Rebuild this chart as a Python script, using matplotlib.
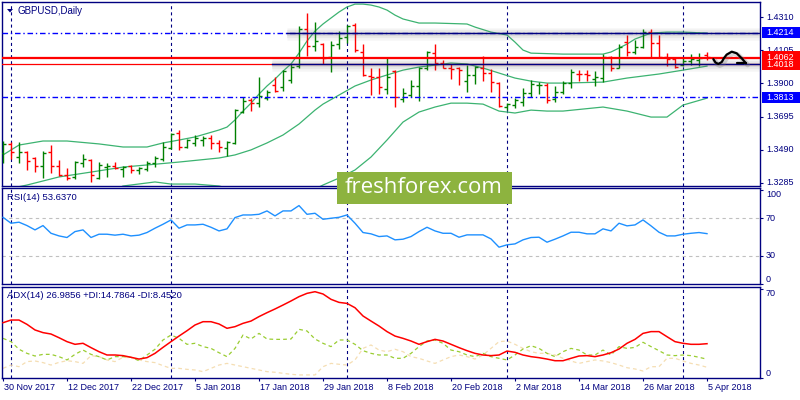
import numpy as np
import matplotlib.pyplot as plt
from matplotlib.patches import Rectangle, Polygon
from matplotlib.transforms import blended_transform_factory as blend

plt.rcParams['font.family'] = ['Liberation Sans', 'DejaVu Sans']

# ---- data (GBPUSD daily, 30 Nov 2017 .. 5 Apr 2018) ----
date_labels = ['30 Nov 2017', '12 Dec 2017', '22 Dec 2017', '5 Jan 2018', '17 Jan 2018',
               '29 Jan 2018', '8 Feb 2018', '20 Feb 2018', '2 Mar 2018', '14 Mar 2018',
               '26 Mar 2018', '5 Apr 2018']
date_pos = [0, 8, 16, 24, 32, 40, 48, 56, 64, 72, 80, 88]
month_start = [1, 21, 43, 63, 85]

opens = np.array([
    1.3470, 1.3526, 1.3445, 1.3476, 1.3439, 1.3390, 1.3476, 1.3390, 1.3334, 1.3322,
    1.3408, 1.3427, 1.3315, 1.3383, 1.3390, 1.3371, 1.3390, 1.3365, 1.3371, 1.3408,
    1.3433, 1.3501, 1.3593, 1.3507, 1.3532, 1.3550, 1.3563, 1.3532, 1.3501, 1.3532,
    1.3723, 1.3797, 1.3778, 1.3809, 1.3890, 1.3877, 1.3921, 1.4007, 1.4236, 1.4131,
    1.4143, 1.4063, 1.4143, 1.4186, 1.4261, 1.4094, 1.3945, 1.3939, 1.3865, 1.3976,
    1.3803, 1.3828, 1.3884, 1.3995, 1.4087, 1.4026, 1.3995, 1.3995, 1.3914, 1.3952,
    1.3995, 1.3964, 1.3902, 1.3754, 1.3766, 1.3785, 1.3840, 1.3890, 1.3890, 1.3803,
    1.3846, 1.3902, 1.3958, 1.3958, 1.3927, 1.3933, 1.4063, 1.3995, 1.4155, 1.4094,
    1.4125, 1.4217, 1.4149, 1.4063, 1.4050, 1.4013, 1.4038, 1.4044, 1.4075])
highs = np.array([
    1.3544, 1.3538, 1.3538, 1.3482, 1.3445, 1.3482, 1.3519, 1.3427, 1.3377, 1.3420,
    1.3464, 1.3433, 1.3414, 1.3408, 1.3414, 1.3390, 1.3396, 1.3383, 1.3420, 1.3451,
    1.3538, 1.3593, 1.3612, 1.3556, 1.3581, 1.3575, 1.3581, 1.3550, 1.3544, 1.3741,
    1.3816, 1.3809, 1.3939, 1.3859, 1.3939, 1.3982, 1.4020, 1.4254, 1.4335, 1.4279,
    1.4149, 1.4162, 1.4223, 1.4261, 1.4273, 1.4143, 1.3995, 1.3995, 1.4063, 1.3982,
    1.3871, 1.3921, 1.4001, 1.4100, 1.4143, 1.4044, 1.4020, 1.4001, 1.4013, 1.4007,
    1.4069, 1.3989, 1.3908, 1.3778, 1.3809, 1.3871, 1.3921, 1.3908, 1.3902, 1.3884,
    1.3914, 1.3989, 1.3982, 1.3982, 1.3976, 1.4081, 1.4069, 1.4143, 1.4199, 1.4168,
    1.4236, 1.4236, 1.4199, 1.4087, 1.4063, 1.4063, 1.4081, 1.4087, 1.4094])
lows = np.array([
    1.3408, 1.3433, 1.3408, 1.3365, 1.3352, 1.3315, 1.3346, 1.3328, 1.3303, 1.3309,
    1.3383, 1.3291, 1.3309, 1.3322, 1.3371, 1.3322, 1.3346, 1.3340, 1.3359, 1.3383,
    1.3420, 1.3495, 1.3489, 1.3501, 1.3513, 1.3513, 1.3495, 1.3476, 1.3451, 1.3526,
    1.3717, 1.3729, 1.3754, 1.3797, 1.3846, 1.3853, 1.3902, 1.3995, 1.4069, 1.4100,
    1.4020, 1.3970, 1.4112, 1.4149, 1.4094, 1.3945, 1.3828, 1.3834, 1.3834, 1.3754,
    1.3785, 1.3816, 1.3791, 1.3982, 1.3982, 1.3995, 1.3927, 1.3890, 1.3846, 1.3896,
    1.3914, 1.3846, 1.3754, 1.3735, 1.3747, 1.3760, 1.3816, 1.3834, 1.3778, 1.3785,
    1.3834, 1.3871, 1.3914, 1.3914, 1.3884, 1.3908, 1.3976, 1.3995, 1.4069, 1.4081,
    1.4118, 1.4057, 1.4057, 1.4007, 1.3995, 1.4007, 1.4013, 1.4007, 1.4044])
closes = np.array([
    1.3526, 1.3476, 1.3476, 1.3420, 1.3390, 1.3470, 1.3390, 1.3334, 1.3315, 1.3414,
    1.3433, 1.3334, 1.3396, 1.3390, 1.3377, 1.3383, 1.3365, 1.3377, 1.3408, 1.3439,
    1.3507, 1.3587, 1.3507, 1.3550, 1.3563, 1.3563, 1.3532, 1.3507, 1.3538, 1.3735,
    1.3791, 1.3778, 1.3822, 1.3846, 1.3853, 1.3976, 1.4001, 1.4236, 1.4131, 1.4162,
    1.4057, 1.4137, 1.4180, 1.4254, 1.4106, 1.3952, 1.3939, 1.3877, 1.3939, 1.3816,
    1.3840, 1.3884, 1.3995, 1.4094, 1.4026, 1.3995, 1.3989, 1.3982, 1.3952, 1.4001,
    1.3964, 1.3908, 1.3760, 1.3772, 1.3797, 1.3840, 1.3896, 1.3893, 1.3797, 1.3846,
    1.3902, 1.3970, 1.3955, 1.3952, 1.3939, 1.4063, 1.3995, 1.4125, 1.4094, 1.4125,
    1.4217, 1.4149, 1.4063, 1.4050, 1.4001, 1.4038, 1.4050, 1.4057, 1.4062])

# Bollinger bands, sampled at these bar indices
bb_up_idx = [0, 2, 5, 8, 12, 15, 18, 20, 22, 24, 27, 28, 29, 30, 31, 32, 33, 34, 35, 36,
             37, 38, 39, 40, 41, 42, 43, 44, 45, 46, 47, 48, 49, 50, 52, 54, 58, 59, 61, 63,
             64, 65, 66, 70, 75, 76, 78, 79, 81, 83, 85, 88]
bb_up = [1.3458, 1.3519, 1.3544, 1.3544, 1.3526, 1.3507, 1.3507, 1.3532, 1.3550, 1.3569,
         1.3612, 1.3630, 1.3674, 1.3729, 1.3778, 1.3834, 1.3884, 1.3927, 1.3976, 1.4020,
         1.4087, 1.4162, 1.4223, 1.4267, 1.4304, 1.4341, 1.4372, 1.4390, 1.4390, 1.4384,
         1.4372, 1.4353, 1.4322, 1.4298, 1.4273, 1.4273, 1.4267, 1.4248, 1.4217, 1.4199,
         1.4155, 1.4106, 1.4087, 1.4081, 1.4081, 1.4094, 1.4143, 1.4174, 1.4211, 1.4217,
         1.4217, 1.4211]
bb_mid_idx = [0, 3, 7, 11, 15, 18, 22, 27, 29, 31, 33, 35, 37, 38, 39, 40, 42, 44, 46, 48,
              50, 52, 54, 56, 58, 60, 62, 64, 66, 68, 70, 75, 78, 82, 85, 88]
bb_mid = [1.3241, 1.3272, 1.3322, 1.3352, 1.3383, 1.3396, 1.3414, 1.3439, 1.3458, 1.3489,
          1.3532, 1.3581, 1.3649, 1.3692, 1.3735, 1.3772, 1.3828, 1.3884, 1.3921, 1.3952,
          1.3982, 1.4001, 1.4013, 1.4026, 1.4020, 1.3995, 1.3964, 1.3933, 1.3914, 1.3902,
          1.3902, 1.3908, 1.3933, 1.3958, 1.3982, 1.4007]
bb_lo_idx = [0, 3, 7, 11, 15, 19, 21, 24, 27, 29, 31, 33, 35, 37, 39, 40, 42, 44, 46, 48,
             50, 52, 54, 56, 58, 60, 62, 64, 66, 68, 70, 75, 78, 81, 83, 85, 88]
bb_lo = [1.3025, 1.3031, 1.3099, 1.3173, 1.3266, 1.3291, 1.3278, 1.3278, 1.3266, 1.3241,
         1.3198, 1.3179, 1.3185, 1.3210, 1.3247, 1.3272, 1.3315, 1.3365, 1.3445, 1.3550,
         1.3661, 1.3723, 1.3754, 1.3778, 1.3778, 1.3772, 1.3729, 1.3717, 1.3735, 1.3729,
         1.3729, 1.3754, 1.3729, 1.3692, 1.3692, 1.3766, 1.3809]

rsi = [71, 64.7, 65.8, 62.2, 57.6, 62.2, 54, 51.2, 49.5, 55.8,
       57.6, 49.5, 53, 53, 52, 53, 51.2, 52, 54.8, 59.4,
       63.6, 68.2, 59.4, 62.9, 62.9, 63.6, 60.4, 56.5, 58.7, 70.7,
       73.5, 73.5, 74.2, 77.8, 72.5, 77.8, 77.8, 83.5, 74.2, 75.3,
       68.9, 70, 71, 73.5, 64.7, 54.8, 53.4, 50.5, 51.2, 47,
       47.7, 50.5, 55.8, 60.4, 56.5, 54, 54, 49.8, 52.3, 52.3,
       52.3, 48, 39.2, 41.7, 42.7, 47, 49.5, 49.8, 44.5, 47.7,
       51.2, 55.1, 55.1, 53.4, 53.4, 58.7, 56.5, 64.7, 61.9, 62.9,
       68.2, 61.9, 55.1, 51.2, 51.2, 53, 54, 54.8, 53.6]
adx = [43.5, 45.6, 45.6, 42.2, 37.8, 35.7, 34.6, 31.7, 28.6, 26.5,
       27.3, 23.9, 20.7, 18.1, 18.1, 17.6, 16.3, 14.9, 16, 19.4,
       24.1, 28.6, 33, 37.2, 41.7, 44.3, 44.3, 42.5, 39.1, 40.4,
       43, 44.8, 48.3, 51.4, 54.3, 57.4, 60.6, 64, 66.6, 67.9,
       66.1, 61.9, 59.5, 58.7, 55.3, 48.8, 44.8, 40.9, 36.5, 33,
       31.2, 29.1, 26.5, 28.6, 30.4, 29.1, 26.5, 23.9, 21.5, 19.4,
       18.1, 17.6, 18.1, 21.2, 20.2, 18.1, 16.8, 16, 14.9, 13.6,
       13.6, 15.5, 17.3, 17.6, 16.8, 18.1, 19.9, 22.8, 27.3, 30.4,
       35.1, 36.5, 36.5, 32.5, 28.6, 27.3, 26.5, 26.5, 26.99]
plus_di = [31.2, 28.6, 22.6, 19.4, 17.3, 18.6, 18.6, 16.8, 14.2, 18.6,
           22, 18.6, 16.8, 14.2, 16.8, 16.8, 16.3, 13.6, 18.1, 22.6,
           29.9, 33.8, 31.2, 26.5, 27.3, 24.7, 23.3, 19.9, 16.8, 23.3,
           33.8, 30.7, 35.1, 30.7, 30.4, 30.4, 30.7, 38.3, 37, 30.7,
           27.3, 24.7, 29.9, 29.9, 26.5, 21.5, 19.4, 18.1, 18.1, 15.5,
           15.5, 19.4, 24.7, 29.1, 29.9, 27.3, 22, 20.7, 18.1, 16.8,
           19.4, 16.8, 15.5, 14.2, 18.1, 22.8, 25.4, 23.3, 19.4, 16.8,
           20.7, 23.3, 22, 18.1, 18.1, 22, 18.1, 24.7, 23.3, 24.1,
           28.1, 24.7, 21.5, 18.1, 17.6, 18.1, 17.6, 16.3, 14.79]
minus_di = [7.6, 10.2, 8.9, 12.9, 13.4, 12.1, 10.2, 12.3, 13.6, 12.9,
            11.5, 17.6, 16.8, 14.2, 12.9, 16.3, 16, 14.2, 12.9, 12.1,
            9.7, 7.6, 7.6, 6.8, 6.3, 5, 7.6, 10.2, 11.5, 10.2,
            8.9, 7.6, 6.3, 5, 4.5, 3.7, 2.9, 2.4, 2.4, 2.4,
            8.9, 11.5, 10.8, 10.2, 14.2, 23.3, 26, 22, 20.7, 22.6,
            20.7, 16.8, 15.5, 13.4, 11.5, 14.2, 16.8, 18.1, 16.8, 14.9,
            18.1, 23.3, 28.6, 29.1, 26.5, 23.3, 20.7, 19.4, 19.4, 18.1,
            15.5, 13.4, 11.5, 12.9, 14.2, 13.4, 12.1, 10.2, 8.1, 7.1,
            5.5, 8.9, 8.9, 15.5, 15.5, 13.4, 11.5, 10.2, 8.45]

price_ticks = [1.4310, 1.4105, 1.3900, 1.3695, 1.3490, 1.3285]
red_lines = [1.4066, 1.4058, 1.4018]
dashdot_lines = [1.4214, 1.3813]
channel_lines = [(35.5, 1.4214), (33.6, 1.4018)]   # (start bar, price)
price_boxes = [(1.4214, '1.4214', '#0000FF'), (1.3813, '1.3813', '#0000FF'),
               (1.4018, '1.4018', '#FF0000'), (1.4062, '1.4062', '#FF0000')]
# hand drawn arrow on the right (bar, price)
arrow_x = [88.79, 89.06, 89.41, 89.84, 90.13, 90.46, 91.09, 91.71, 92.34, 92.88]
arrow_y = [1.4050, 1.4029, 1.4020, 1.4032, 1.4057, 1.4078, 1.4096, 1.4086, 1.4055, 1.4024]
arrow_head_x = [91.71, 92.88]
arrow_head_y = [1.4024, 1.4024]

NAVY = '#000080'
W, H = 800, 400
fig = plt.figure(figsize=(8, 4), dpi=100)


def box(x0, y0, x1, y1):
    return [x0 / W, 1 - y1 / H, (x1 - x0) / W, (y1 - y0) / H]


ax_p = fig.add_axes(box(2, 2, 760, 186))
ax_r = fig.add_axes(box(2, 188, 760, 284))
ax_a = fig.add_axes(box(2, 287, 760, 378))

for ax in (ax_p, ax_r, ax_a):
    ax.set_xlim(-0.125, 94.625)
    for s in ax.spines.values():
        s.set_color(NAVY)
        s.set_linewidth(1)
    ax.set_xticks([])
    ax.yaxis.tick_right()
    ax.tick_params(axis='y', direction='out', length=2.2, width=0.8, color=NAVY,
                   labelright=False, labelleft=False)
    for m in month_start:
        ax.axvline(m, color=NAVY, lw=0.8, ls=(0, (2.75, 2.75)), zorder=1)


def right_labels(ax, vals, texts, vas):
    ax.set_yticks(vals)
    tr = blend(ax.transAxes, ax.transData)
    for v, t, va in zip(vals, texts, vas):
        ax.text(1.0079, v, t, transform=tr, ha='left', va=va, fontsize=6.5,
                color=NAVY, clip_on=False, zorder=5)


# ---- price panel ----
ax_p.set_ylim(1.3266, 1.4403)
x = np.arange(len(closes))
col = np.where(closes >= opens, '#008000', '#FF0000')
ax_p.vlines(x, lows, highs, colors=col, lw=1, zorder=3)
ax_p.hlines(opens, x - 0.4, x, colors=col, lw=1, zorder=3)
ax_p.hlines(closes, x, x + 0.4, colors=col, lw=1, zorder=3)

for idx, vals in ((bb_up_idx, bb_up), (bb_mid_idx, bb_mid), (bb_lo_idx, bb_lo)):
    ax_p.plot(idx, vals, color='#3CB371', lw=0.9, zorder=2)

for p in dashdot_lines:
    ax_p.axhline(p, color='#0000FF', lw=1, ls=(0, (4, 2, 1, 2)), zorder=4)
for p in red_lines:
    ax_p.axhline(p, color='#FF0000', lw=0.9, zorder=4)
for x0, p in channel_lines:
    # soft grey drop shadow under the drawn level
    for w, a in ((9, 0.06), (6, 0.08), (3, 0.12)):
        ax_p.plot([x0, 94.625], [p - 0.0007, p - 0.0007], color='#606060', alpha=a, lw=w,
                  solid_capstyle='butt', zorder=4)
    ax_p.plot([x0, 94.625], [p, p], color=NAVY, lw=1, zorder=5)

ax_p.plot(np.array(arrow_x) + 0.2, np.array(arrow_y) - 0.0010, color='#808080',
          alpha=0.3, lw=3.5, zorder=5, solid_capstyle='round')
ax_p.plot(arrow_x, arrow_y, color='black', lw=1.6, zorder=6, solid_capstyle='round',
          solid_joinstyle='round')
ax_p.plot(arrow_head_x, arrow_head_y, color='black', lw=1.6, zorder=6,
          solid_capstyle='round')

right_labels(ax_p, price_ticks, ['%.4f' % v for v in price_ticks], ['center'] * 6)

trp = blend(ax_p.transAxes, ax_p.transData)
ppx = (1.4403 - 1.3266) / 184
for p, t, c in price_boxes:
    ax_p.add_patch(Rectangle((1.0026, p - 5.8 * ppx), 0.0501, 11.6 * ppx, transform=trp,
                             facecolor=c, edgecolor='none', clip_on=False, zorder=7))
    ax_p.text(1.0079, p, t, transform=trp, ha='left', va='center', fontsize=6.5,
              color='white', clip_on=False, zorder=8)

# ---- RSI panel ----
ax_r.set_ylim(0.3, 102.2)
ax_r.plot(x, rsi, color='#1E90FF', lw=1, zorder=3)
for lv in (70, 30):
    ax_r.axhline(lv, color='#C0C0C0', lw=0.8, ls=(0, (3, 3)), zorder=2)
right_labels(ax_r, [100, 70, 30, 0], ['100', '70', '30', '0'],
             ['top', 'center', 'center', 'bottom'])

# ---- ADX panel ----
ax_a.set_ylim(0, 71.6)
ax_a.plot(x, minus_di, color='#F5DEB3', lw=0.9, ls=(0, (3, 2.5)), zorder=2)
ax_a.plot(x, plus_di, color='#9ACD32', lw=0.9, ls=(0, (3, 2.5)), zorder=2)
ax_a.plot(x, adx, color='#FF0000', lw=1.1, zorder=3)
right_labels(ax_a, [70, 0], ['70', '0'], ['top', 'bottom'])

ax_a.set_xticks(date_pos)
ax_a.tick_params(axis='x', direction='out', length=2.2, width=0.8, color=NAVY,
                 labelbottom=False)
for p, lbl in zip(date_pos, date_labels):
    ax_a.annotate(lbl, xy=(p, 0), xycoords=('data', 'axes fraction'), xytext=(0.6, -3.6),
                  textcoords='offset points', ha='left', va='top', fontsize=6.5,
                  color=NAVY, annotation_clip=False)

# ---- texts ----
fig.patches.append(Polygon([(7 / W, 1 - 9 / H), (13 / W, 1 - 9 / H), (10 / W, 1 - 12.5 / H)],
                           closed=True, transform=fig.transFigure, facecolor=NAVY,
                           edgecolor='none'))
fig.text(18 / W, 1 - 10.5 / H, 'GBPUSD,Daily', fontsize=7, color=NAVY, va='center')
fig.text(7 / W, 1 - 198 / H, 'RSI(14) 53.6370', fontsize=6.8, color=NAVY, va='center')
fig.text(7 / W, 1 - 296 / H, 'ADX(14) 26.9856 +DI:14.7864 -DI:8.4520', fontsize=6.8,
         color=NAVY, va='center')

fig.patches.append(Rectangle((337 / W, 1 - 204 / H), 175 / W, 32 / H,
                             transform=fig.transFigure, facecolor='#8DB33F',
                             edgecolor='none', zorder=10))
fig.text(424 / W, 1 - 187.5 / H, 'freshforex.com', fontsize=16, family='Open Sans',
         color='white', ha='center', va='center', zorder=11)

fig.savefig('out.png', dpi=100)
